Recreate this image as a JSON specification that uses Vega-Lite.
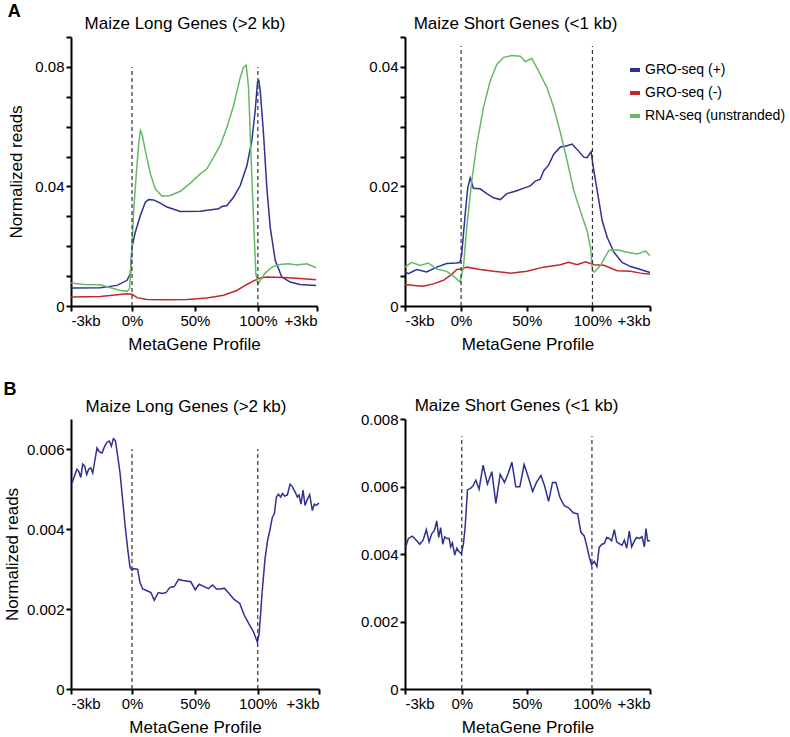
{
  "$schema": "https://vega.github.io/schema/vega-lite/v6.json",
  "background": "white",
  "padding": {"left": 3, "top": 3, "right": 2, "bottom": 1},
  "config": {
    "font": "Liberation Sans",
    "view": {"stroke": null},
    "axis": {"domain": true, "ticks": true, "domainColor": "#000000", "domainWidth": 2, "domainOpacity": 1, "tickColor": "#000000", "tickWidth": 2, "tickSize": 5, "tickOpacity": 1, "labelColor": "black", "labelFontSize": 15, "labelPadding": 2, "labelOverlap": false, "titleFontSize": 17, "titleFontWeight": "normal", "titleColor": "black", "grid": false, "titlePadding": 8},
    "title": {"fontSize": 17, "fontWeight": "normal", "color": "black", "offset": 7},
    "legend": {"labelFontSize": 14, "labelColor": "black", "padding": 0}
  },
  "datasets": {
    "aLong": [
      {"pos": -48.4, "reads": 0.0060, "t": "GRO-seq (+)"}, {"pos": -25.1, "reads": 0.0061, "t": "GRO-seq (+)"}, {"pos": -11.9, "reads": 0.0069, "t": "GRO-seq (+)"}, {"pos": -4.0, "reads": 0.0086, "t": "GRO-seq (+)"}, {"pos": -1.3, "reads": 0.0108, "t": "GRO-seq (+)"}, {"pos": 0, "reads": 0.0197, "t": "GRO-seq (+)"}, {"pos": 2.6, "reads": 0.0247, "t": "GRO-seq (+)"}, {"pos": 6.6, "reads": 0.0303, "t": "GRO-seq (+)"}, {"pos": 10.6, "reads": 0.0347, "t": "GRO-seq (+)"}, {"pos": 13.2, "reads": 0.0356, "t": "GRO-seq (+)"}, {"pos": 17.2, "reads": 0.0355, "t": "GRO-seq (+)"}, {"pos": 22.5, "reads": 0.0344, "t": "GRO-seq (+)"}, {"pos": 27.8, "reads": 0.0331, "t": "GRO-seq (+)"}, {"pos": 38.4, "reads": 0.0316, "t": "GRO-seq (+)"}, {"pos": 54.2, "reads": 0.0317, "t": "GRO-seq (+)"}, {"pos": 68.8, "reads": 0.0325, "t": "GRO-seq (+)"}, {"pos": 71.4, "reads": 0.0333, "t": "GRO-seq (+)"}, {"pos": 75.4, "reads": 0.0336, "t": "GRO-seq (+)"}, {"pos": 80.7, "reads": 0.0364, "t": "GRO-seq (+)"}, {"pos": 86.0, "reads": 0.0403, "t": "GRO-seq (+)"}, {"pos": 91.3, "reads": 0.0470, "t": "GRO-seq (+)"}, {"pos": 95.2, "reads": 0.0553, "t": "GRO-seq (+)"}, {"pos": 97.9, "reads": 0.0654, "t": "GRO-seq (+)"}, {"pos": 99.7, "reads": 0.0748, "t": "GRO-seq (+)"}, {"pos": 100.8, "reads": 0.0754, "t": "GRO-seq (+)"}, {"pos": 101.9, "reads": 0.0720, "t": "GRO-seq (+)"}, {"pos": 104.5, "reads": 0.0576, "t": "GRO-seq (+)"}, {"pos": 107.1, "reads": 0.0398, "t": "GRO-seq (+)"}, {"pos": 109.8, "reads": 0.0264, "t": "GRO-seq (+)"}, {"pos": 113.8, "reads": 0.0153, "t": "GRO-seq (+)"}, {"pos": 119.0, "reads": 0.0097, "t": "GRO-seq (+)"}, {"pos": 125.7, "reads": 0.0080, "t": "GRO-seq (+)"}, {"pos": 133.6, "reads": 0.0072, "t": "GRO-seq (+)"}, {"pos": 146.3, "reads": 0.0069, "t": "GRO-seq (+)"},
      {"pos": -48.4, "reads": 0.0030, "t": "GRO-seq (-)"}, {"pos": -25.1, "reads": 0.0032, "t": "GRO-seq (-)"}, {"pos": -11.9, "reads": 0.0038, "t": "GRO-seq (-)"}, {"pos": -4.0, "reads": 0.0041, "t": "GRO-seq (-)"}, {"pos": 0, "reads": 0.0039, "t": "GRO-seq (-)"}, {"pos": 4.0, "reads": 0.0028, "t": "GRO-seq (-)"}, {"pos": 11.9, "reads": 0.0022, "t": "GRO-seq (-)"}, {"pos": 27.8, "reads": 0.0021, "t": "GRO-seq (-)"}, {"pos": 43.7, "reads": 0.0022, "t": "GRO-seq (-)"}, {"pos": 59.5, "reads": 0.0027, "t": "GRO-seq (-)"}, {"pos": 72.8, "reads": 0.0036, "t": "GRO-seq (-)"}, {"pos": 83.3, "reads": 0.0052, "t": "GRO-seq (-)"}, {"pos": 91.3, "reads": 0.0072, "t": "GRO-seq (-)"}, {"pos": 96.6, "reads": 0.0084, "t": "GRO-seq (-)"}, {"pos": 101.9, "reads": 0.0094, "t": "GRO-seq (-)"}, {"pos": 107.1, "reads": 0.0097, "t": "GRO-seq (-)"}, {"pos": 120.4, "reads": 0.0095, "t": "GRO-seq (-)"}, {"pos": 133.6, "reads": 0.0092, "t": "GRO-seq (-)"}, {"pos": 146.3, "reads": 0.0088, "t": "GRO-seq (-)"},
      {"pos": -48.4, "reads": 0.0077, "t": "RNA-seq (unstranded)"}, {"pos": -38.4, "reads": 0.0072, "t": "RNA-seq (unstranded)"}, {"pos": -25.1, "reads": 0.0071, "t": "RNA-seq (unstranded)"}, {"pos": -17.2, "reads": 0.0061, "t": "RNA-seq (unstranded)"}, {"pos": -9.3, "reads": 0.0052, "t": "RNA-seq (unstranded)"}, {"pos": -4.0, "reads": 0.0049, "t": "RNA-seq (unstranded)"}, {"pos": -1.9, "reads": 0.0058, "t": "RNA-seq (unstranded)"}, {"pos": 0, "reads": 0.0197, "t": "RNA-seq (unstranded)"}, {"pos": 1.3, "reads": 0.0320, "t": "RNA-seq (unstranded)"}, {"pos": 3.4, "reads": 0.0442, "t": "RNA-seq (unstranded)"}, {"pos": 5.3, "reads": 0.0542, "t": "RNA-seq (unstranded)"}, {"pos": 6.6, "reads": 0.0587, "t": "RNA-seq (unstranded)"}, {"pos": 7.9, "reads": 0.0576, "t": "RNA-seq (unstranded)"}, {"pos": 10.6, "reads": 0.0520, "t": "RNA-seq (unstranded)"}, {"pos": 14.6, "reads": 0.0442, "t": "RNA-seq (unstranded)"}, {"pos": 18.5, "reads": 0.0392, "t": "RNA-seq (unstranded)"}, {"pos": 23.8, "reads": 0.0367, "t": "RNA-seq (unstranded)"}, {"pos": 30.4, "reads": 0.0370, "t": "RNA-seq (unstranded)"}, {"pos": 38.4, "reads": 0.0384, "t": "RNA-seq (unstranded)"}, {"pos": 46.3, "reads": 0.0411, "t": "RNA-seq (unstranded)"}, {"pos": 54.2, "reads": 0.0442, "t": "RNA-seq (unstranded)"}, {"pos": 59.5, "reads": 0.0459, "t": "RNA-seq (unstranded)"}, {"pos": 64.8, "reads": 0.0498, "t": "RNA-seq (unstranded)"}, {"pos": 70.1, "reads": 0.0537, "t": "RNA-seq (unstranded)"}, {"pos": 75.4, "reads": 0.0598, "t": "RNA-seq (unstranded)"}, {"pos": 80.7, "reads": 0.0670, "t": "RNA-seq (unstranded)"}, {"pos": 86.0, "reads": 0.0765, "t": "RNA-seq (unstranded)"}, {"pos": 88.6, "reads": 0.0798, "t": "RNA-seq (unstranded)"}, {"pos": 90.7, "reads": 0.0806, "t": "RNA-seq (unstranded)"}, {"pos": 92.6, "reads": 0.0732, "t": "RNA-seq (unstranded)"}, {"pos": 94.4, "reads": 0.0520, "t": "RNA-seq (unstranded)"}, {"pos": 96.6, "reads": 0.0286, "t": "RNA-seq (unstranded)"}, {"pos": 98.4, "reads": 0.0108, "t": "RNA-seq (unstranded)"}, {"pos": 100.0, "reads": 0.0072, "t": "RNA-seq (unstranded)"}, {"pos": 101.9, "reads": 0.0086, "t": "RNA-seq (unstranded)"}, {"pos": 105.8, "reads": 0.0110, "t": "RNA-seq (unstranded)"}, {"pos": 111.1, "reads": 0.0130, "t": "RNA-seq (unstranded)"}, {"pos": 117.7, "reads": 0.0139, "t": "RNA-seq (unstranded)"}, {"pos": 124.3, "reads": 0.0141, "t": "RNA-seq (unstranded)"}, {"pos": 131.0, "reads": 0.0137, "t": "RNA-seq (unstranded)"}, {"pos": 138.9, "reads": 0.0141, "t": "RNA-seq (unstranded)"}, {"pos": 146.3, "reads": 0.0128, "t": "RNA-seq (unstranded)"}
    ],
    "aShort": [
      {"pos": -42.7, "reads": 0.0057, "t": "GRO-seq (+)"}, {"pos": -40.2, "reads": 0.0054, "t": "GRO-seq (+)"}, {"pos": -33.8, "reads": 0.0061, "t": "GRO-seq (+)"}, {"pos": -26.2, "reads": 0.0057, "t": "GRO-seq (+)"}, {"pos": -18.6, "reads": 0.0065, "t": "GRO-seq (+)"}, {"pos": -10.9, "reads": 0.0071, "t": "GRO-seq (+)"}, {"pos": -3.3, "reads": 0.0072, "t": "GRO-seq (+)"}, {"pos": -0.8, "reads": 0.0073, "t": "GRO-seq (+)"}, {"pos": 0.5, "reads": 0.0087, "t": "GRO-seq (+)"}, {"pos": 3.1, "reads": 0.0154, "t": "GRO-seq (+)"}, {"pos": 5.1, "reads": 0.0198, "t": "GRO-seq (+)"}, {"pos": 6.9, "reads": 0.0214, "t": "GRO-seq (+)"}, {"pos": 9.4, "reads": 0.0197, "t": "GRO-seq (+)"}, {"pos": 14.5, "reads": 0.0196, "t": "GRO-seq (+)"}, {"pos": 19.6, "reads": 0.0188, "t": "GRO-seq (+)"}, {"pos": 24.7, "reads": 0.0181, "t": "GRO-seq (+)"}, {"pos": 29.8, "reads": 0.0178, "t": "GRO-seq (+)"}, {"pos": 34.9, "reads": 0.0188, "t": "GRO-seq (+)"}, {"pos": 41.2, "reads": 0.0192, "t": "GRO-seq (+)"}, {"pos": 48.9, "reads": 0.0198, "t": "GRO-seq (+)"}, {"pos": 52.7, "reads": 0.0201, "t": "GRO-seq (+)"}, {"pos": 56.5, "reads": 0.0209, "t": "GRO-seq (+)"}, {"pos": 60.3, "reads": 0.0212, "t": "GRO-seq (+)"}, {"pos": 62.8, "reads": 0.0226, "t": "GRO-seq (+)"}, {"pos": 66.7, "reads": 0.0236, "t": "GRO-seq (+)"}, {"pos": 70.5, "reads": 0.0254, "t": "GRO-seq (+)"}, {"pos": 75.6, "reads": 0.0266, "t": "GRO-seq (+)"}, {"pos": 80.7, "reads": 0.0268, "t": "GRO-seq (+)"}, {"pos": 84.5, "reads": 0.0271, "t": "GRO-seq (+)"}, {"pos": 88.3, "reads": 0.0262, "t": "GRO-seq (+)"}, {"pos": 93.4, "reads": 0.0249, "t": "GRO-seq (+)"}, {"pos": 95.9, "reads": 0.0248, "t": "GRO-seq (+)"}, {"pos": 99.0, "reads": 0.0258, "t": "GRO-seq (+)"}, {"pos": 100.5, "reads": 0.0234, "t": "GRO-seq (+)"}, {"pos": 103.6, "reads": 0.0193, "t": "GRO-seq (+)"}, {"pos": 107.4, "reads": 0.0143, "t": "GRO-seq (+)"}, {"pos": 111.2, "reads": 0.0115, "t": "GRO-seq (+)"}, {"pos": 116.3, "reads": 0.0090, "t": "GRO-seq (+)"}, {"pos": 122.6, "reads": 0.0073, "t": "GRO-seq (+)"}, {"pos": 129.0, "reads": 0.0066, "t": "GRO-seq (+)"}, {"pos": 136.6, "reads": 0.0061, "t": "GRO-seq (+)"}, {"pos": 143.8, "reads": 0.0056, "t": "GRO-seq (+)"},
      {"pos": -42.7, "reads": 0.0036, "t": "GRO-seq (-)"}, {"pos": -33.8, "reads": 0.0034, "t": "GRO-seq (-)"}, {"pos": -28.8, "reads": 0.0033, "t": "GRO-seq (-)"}, {"pos": -21.1, "reads": 0.0037, "t": "GRO-seq (-)"}, {"pos": -13.5, "reads": 0.0043, "t": "GRO-seq (-)"}, {"pos": -7.1, "reads": 0.0053, "t": "GRO-seq (-)"}, {"pos": -3.3, "reads": 0.0061, "t": "GRO-seq (-)"}, {"pos": 0.5, "reads": 0.0062, "t": "GRO-seq (-)"}, {"pos": 4.3, "reads": 0.0065, "t": "GRO-seq (-)"}, {"pos": 14.5, "reads": 0.0061, "t": "GRO-seq (-)"}, {"pos": 24.7, "reads": 0.0058, "t": "GRO-seq (-)"}, {"pos": 37.4, "reads": 0.0055, "t": "GRO-seq (-)"}, {"pos": 50.1, "reads": 0.0058, "t": "GRO-seq (-)"}, {"pos": 62.8, "reads": 0.0065, "t": "GRO-seq (-)"}, {"pos": 75.6, "reads": 0.0069, "t": "GRO-seq (-)"}, {"pos": 81.9, "reads": 0.0073, "t": "GRO-seq (-)"}, {"pos": 88.3, "reads": 0.0069, "t": "GRO-seq (-)"}, {"pos": 94.7, "reads": 0.0074, "t": "GRO-seq (-)"}, {"pos": 101.1, "reads": 0.0069, "t": "GRO-seq (-)"}, {"pos": 108.7, "reads": 0.0068, "t": "GRO-seq (-)"}, {"pos": 118.8, "reads": 0.0059, "t": "GRO-seq (-)"}, {"pos": 129.0, "reads": 0.0058, "t": "GRO-seq (-)"}, {"pos": 136.6, "reads": 0.0055, "t": "GRO-seq (-)"}, {"pos": 143.8, "reads": 0.0053, "t": "GRO-seq (-)"},
      {"pos": -42.7, "reads": 0.0065, "t": "RNA-seq (unstranded)"}, {"pos": -37.7, "reads": 0.0073, "t": "RNA-seq (unstranded)"}, {"pos": -31.3, "reads": 0.0068, "t": "RNA-seq (unstranded)"}, {"pos": -24.9, "reads": 0.0072, "t": "RNA-seq (unstranded)"}, {"pos": -18.6, "reads": 0.0062, "t": "RNA-seq (unstranded)"}, {"pos": -10.9, "reads": 0.0058, "t": "RNA-seq (unstranded)"}, {"pos": -4.6, "reads": 0.0048, "t": "RNA-seq (unstranded)"}, {"pos": -0.8, "reads": 0.0040, "t": "RNA-seq (unstranded)"}, {"pos": 1.8, "reads": 0.0065, "t": "RNA-seq (unstranded)"}, {"pos": 4.3, "reads": 0.0132, "t": "RNA-seq (unstranded)"}, {"pos": 8.1, "reads": 0.0209, "t": "RNA-seq (unstranded)"}, {"pos": 12.0, "reads": 0.0271, "t": "RNA-seq (unstranded)"}, {"pos": 17.0, "reads": 0.0332, "t": "RNA-seq (unstranded)"}, {"pos": 22.1, "reads": 0.0376, "t": "RNA-seq (unstranded)"}, {"pos": 27.2, "reads": 0.0404, "t": "RNA-seq (unstranded)"}, {"pos": 32.3, "reads": 0.0416, "t": "RNA-seq (unstranded)"}, {"pos": 38.7, "reads": 0.0419, "t": "RNA-seq (unstranded)"}, {"pos": 45.0, "reads": 0.0418, "t": "RNA-seq (unstranded)"}, {"pos": 48.9, "reads": 0.0409, "t": "RNA-seq (unstranded)"}, {"pos": 53.9, "reads": 0.0414, "t": "RNA-seq (unstranded)"}, {"pos": 59.0, "reads": 0.0393, "t": "RNA-seq (unstranded)"}, {"pos": 65.4, "reads": 0.0365, "t": "RNA-seq (unstranded)"}, {"pos": 70.5, "reads": 0.0332, "t": "RNA-seq (unstranded)"}, {"pos": 75.6, "reads": 0.0290, "t": "RNA-seq (unstranded)"}, {"pos": 80.7, "reads": 0.0243, "t": "RNA-seq (unstranded)"}, {"pos": 85.8, "reads": 0.0193, "t": "RNA-seq (unstranded)"}, {"pos": 90.8, "reads": 0.0159, "t": "RNA-seq (unstranded)"}, {"pos": 95.9, "reads": 0.0126, "t": "RNA-seq (unstranded)"}, {"pos": 98.5, "reads": 0.0098, "t": "RNA-seq (unstranded)"}, {"pos": 100.0, "reads": 0.0059, "t": "RNA-seq (unstranded)"}, {"pos": 101.5, "reads": 0.0057, "t": "RNA-seq (unstranded)"}, {"pos": 106.1, "reads": 0.0068, "t": "RNA-seq (unstranded)"}, {"pos": 112.5, "reads": 0.0093, "t": "RNA-seq (unstranded)"}, {"pos": 118.8, "reads": 0.0094, "t": "RNA-seq (unstranded)"}, {"pos": 126.5, "reads": 0.0090, "t": "RNA-seq (unstranded)"}, {"pos": 134.1, "reads": 0.0087, "t": "RNA-seq (unstranded)"}, {"pos": 140.5, "reads": 0.0092, "t": "RNA-seq (unstranded)"}, {"pos": 143.8, "reads": 0.0084, "t": "RNA-seq (unstranded)"}
    ],
    "bLong": [
      {"pos": -47.6, "reads": 0.00515}, {"pos": -45.8, "reads": 0.00532}, {"pos": -43.9, "reads": 0.00549}, {"pos": -42.3, "reads": 0.00544}, {"pos": -40.7, "reads": 0.00529}, {"pos": -39.2, "reads": 0.00562}, {"pos": -37.6, "reads": 0.00557}, {"pos": -36.0, "reads": 0.00536}, {"pos": -34.4, "reads": 0.0055}, {"pos": -32.8, "reads": 0.00553}, {"pos": -31.2, "reads": 0.0054}, {"pos": -29.6, "reads": 0.0057}, {"pos": -27.8, "reads": 0.00603}, {"pos": -25.9, "reads": 0.00593}, {"pos": -23.8, "reads": 0.0059}, {"pos": -21.7, "reads": 0.00607}, {"pos": -19.8, "reads": 0.00617}, {"pos": -18.0, "reads": 0.0062}, {"pos": -16.4, "reads": 0.00607}, {"pos": -14.8, "reads": 0.00626}, {"pos": -13.2, "reads": 0.00621}, {"pos": -11.4, "reads": 0.00583}, {"pos": -9.5, "reads": 0.0054}, {"pos": -7.4, "reads": 0.00472}, {"pos": -5.3, "reads": 0.00403}, {"pos": -3.2, "reads": 0.00344}, {"pos": -1.6, "reads": 0.00305}, {"pos": 0, "reads": 0.00297}, {"pos": 1.3, "reads": 0.00301}, {"pos": 4.5, "reads": 0.00299}, {"pos": 6.3, "reads": 0.00267}, {"pos": 8.5, "reads": 0.0025}, {"pos": 12.4, "reads": 0.00245}, {"pos": 15.1, "reads": 0.00241}, {"pos": 17.7, "reads": 0.00222}, {"pos": 20.9, "reads": 0.00241}, {"pos": 24.3, "reads": 0.00239}, {"pos": 27.0, "reads": 0.00241}, {"pos": 30.2, "reads": 0.00254}, {"pos": 33.6, "reads": 0.00256}, {"pos": 37.0, "reads": 0.00274}, {"pos": 40.7, "reads": 0.00271}, {"pos": 46.8, "reads": 0.00268}, {"pos": 50.3, "reads": 0.00248}, {"pos": 53.4, "reads": 0.00262}, {"pos": 57.4, "reads": 0.00256}, {"pos": 60.8, "reads": 0.00251}, {"pos": 64.0, "reads": 0.0026}, {"pos": 67.2, "reads": 0.0025}, {"pos": 70.6, "reads": 0.0025}, {"pos": 73.3, "reads": 0.00252}, {"pos": 77.2, "reads": 0.00239}, {"pos": 81.2, "reads": 0.00224}, {"pos": 85.7, "reads": 0.00214}, {"pos": 89.2, "reads": 0.00185}, {"pos": 93.1, "reads": 0.00162}, {"pos": 96.6, "reads": 0.00143}, {"pos": 99.7, "reads": 0.00117}, {"pos": 101.1, "reads": 0.00138}, {"pos": 103.7, "reads": 0.0025}, {"pos": 105.8, "reads": 0.00326}, {"pos": 107.7, "reads": 0.00369}, {"pos": 109.5, "reads": 0.00395}, {"pos": 111.6, "reads": 0.00429}, {"pos": 113.2, "reads": 0.00438}, {"pos": 114.8, "reads": 0.0048}, {"pos": 116.4, "reads": 0.00487}, {"pos": 118.3, "reads": 0.0048}, {"pos": 119.6, "reads": 0.00489}, {"pos": 121.4, "reads": 0.00482}, {"pos": 123.5, "reads": 0.00485}, {"pos": 125.7, "reads": 0.00512}, {"pos": 127.5, "reads": 0.00506}, {"pos": 129.6, "reads": 0.00493}, {"pos": 131.5, "reads": 0.0048}, {"pos": 132.8, "reads": 0.00485}, {"pos": 134.4, "reads": 0.00462}, {"pos": 136.0, "reads": 0.00497}, {"pos": 137.6, "reads": 0.00459}, {"pos": 139.4, "reads": 0.00474}, {"pos": 141.3, "reads": 0.00486}, {"pos": 143.4, "reads": 0.00446}, {"pos": 145.0, "reads": 0.00462}, {"pos": 146.6, "reads": 0.00459}, {"pos": 148.7, "reads": 0.00465}
    ],
    "bShort": [
      {"pos": -43.1, "reads": 0.00421}, {"pos": -41.0, "reads": 0.00446}, {"pos": -37.9, "reads": 0.00453}, {"pos": -34.9, "reads": 0.00441}, {"pos": -32.3, "reads": 0.00429}, {"pos": -29.7, "reads": 0.00441}, {"pos": -27.2, "reads": 0.00472}, {"pos": -25.1, "reads": 0.00436}, {"pos": -23.1, "reads": 0.0046}, {"pos": -21.0, "reads": 0.0047}, {"pos": -19.2, "reads": 0.00498}, {"pos": -17.7, "reads": 0.00449}, {"pos": -16.2, "reads": 0.00478}, {"pos": -14.6, "reads": 0.00429}, {"pos": -13.1, "reads": 0.00451}, {"pos": -11.5, "reads": 0.00446}, {"pos": -9.7, "reads": 0.00446}, {"pos": -8.5, "reads": 0.00421}, {"pos": -7.2, "reads": 0.00433}, {"pos": -5.4, "reads": 0.00397}, {"pos": -3.8, "reads": 0.00417}, {"pos": -2.1, "reads": 0.00407}, {"pos": -0.3, "reads": 0.004}, {"pos": 1.3, "reads": 0.00431}, {"pos": 2.6, "reads": 0.0048}, {"pos": 4.4, "reads": 0.0059}, {"pos": 6.9, "reads": 0.00595}, {"pos": 8.7, "reads": 0.00602}, {"pos": 10.8, "reads": 0.00619}, {"pos": 13.3, "reads": 0.00592}, {"pos": 16.4, "reads": 0.00663}, {"pos": 19.7, "reads": 0.00607}, {"pos": 23.1, "reads": 0.00644}, {"pos": 26.2, "reads": 0.0055}, {"pos": 29.5, "reads": 0.00636}, {"pos": 32.8, "reads": 0.00612}, {"pos": 35.9, "reads": 0.00641}, {"pos": 38.5, "reads": 0.00672}, {"pos": 41.5, "reads": 0.00599}, {"pos": 44.6, "reads": 0.00599}, {"pos": 47.9, "reads": 0.00665}, {"pos": 51.3, "reads": 0.00626}, {"pos": 54.4, "reads": 0.00585}, {"pos": 57.4, "reads": 0.00612}, {"pos": 60.8, "reads": 0.00633}, {"pos": 63.6, "reads": 0.00602}, {"pos": 66.7, "reads": 0.00556}, {"pos": 69.7, "reads": 0.00612}, {"pos": 72.3, "reads": 0.00612}, {"pos": 75.4, "reads": 0.00568}, {"pos": 78.7, "reads": 0.00543}, {"pos": 82.1, "reads": 0.00537}, {"pos": 85.6, "reads": 0.00522}, {"pos": 89.0, "reads": 0.00519}, {"pos": 91.5, "reads": 0.00465}, {"pos": 94.1, "reads": 0.00453}, {"pos": 96.2, "reads": 0.00421}, {"pos": 97.9, "reads": 0.00392}, {"pos": 99.7, "reads": 0.00368}, {"pos": 101.8, "reads": 0.00378}, {"pos": 103.8, "reads": 0.00363}, {"pos": 105.6, "reads": 0.0042}, {"pos": 107.7, "reads": 0.00429}, {"pos": 109.5, "reads": 0.00431}, {"pos": 111.3, "reads": 0.00449}, {"pos": 113.3, "reads": 0.00446}, {"pos": 115.1, "reads": 0.00439}, {"pos": 117.2, "reads": 0.00472}, {"pos": 119.0, "reads": 0.00436}, {"pos": 121.0, "reads": 0.00431}, {"pos": 123.1, "reads": 0.00426}, {"pos": 124.9, "reads": 0.00441}, {"pos": 126.7, "reads": 0.00417}, {"pos": 128.7, "reads": 0.00468}, {"pos": 130.5, "reads": 0.00421}, {"pos": 132.6, "reads": 0.00439}, {"pos": 134.4, "reads": 0.00449}, {"pos": 136.4, "reads": 0.00446}, {"pos": 138.5, "reads": 0.00451}, {"pos": 140.3, "reads": 0.00421}, {"pos": 141.5, "reads": 0.00475}, {"pos": 142.8, "reads": 0.00439}, {"pos": 144.6, "reads": 0.00439}
    ]
  },
  "spacing": 29,
  "vconcat": [
    {
      "title": {"text": "A", "anchor": "start", "frame": "bounds", "fontSize": 18, "fontWeight": "bold", "offset": -6},
      "spacing": 48,
      "resolve": {"scale": {"color": "independent"}, "legend": {"color": "independent"}},
      "hconcat": [
        {
          "width": 246, "height": 269,
          "title": {"text": "Maize Long Genes (>2 kb)", "dx": -9, "offset": -3},
          "encoding": {
            "x": {"field": "pos", "type": "quantitative", "scale": {"domain": [-48.5, 147], "nice": false, "zero": false},
                  "axis": {"values": [-48.5, 0, 50, 100, 147], "labelExpr": "datum.value < -1 ? '-3kb' : datum.value > 101 ? '+3kb' : datum.value + '%'", "title": "MetaGene Profile", "domain": true, "ticks": true}},
            "y": {"field": "reads", "type": "quantitative", "scale": {"domain": [0, 0.09], "nice": false},
                  "axis": {"values": [0, 0.01, 0.02, 0.03, 0.04, 0.05, 0.06, 0.07, 0.08, 0.09], "format": ".2~f", "labelExpr": "indexof(['0','0.04','0.08'], datum.label) >= 0 ? datum.label : ''", "title": "Normalized reads", "titlePadding": 9, "domain": true, "ticks": true}}
          },
          "layer": [
            {"data": {"name": "aLong"}, "mark": {"type": "line", "strokeWidth": 1.5},
             "encoding": {"color": {"field": "t", "type": "nominal", "scale": {"domain": ["GRO-seq (+)", "GRO-seq (-)", "RNA-seq (unstranded)"], "range": ["#2e3192", "#c1272d", "#66b966"]}, "legend": null}}},
            {"data": {"values": [{"pos": 0, "reads": 0, "top": 0.08}, {"pos": 100, "reads": 0, "top": 0.08}]},
             "mark": {"type": "rule", "strokeDash": [4, 3], "strokeWidth": 1.2, "color": "#333333"},
             "encoding": {"y2": {"field": "top"}}}
          ]
        },
        {
          "width": 245, "height": 269,
          "title": {"text": "Maize Short Genes (<1 kb)", "dx": -12, "offset": -3},
          "encoding": {
            "x": {"field": "pos", "type": "quantitative", "scale": {"domain": [-42.7, 143.8], "nice": false, "zero": false},
                  "axis": {"values": [-42.7, 0, 50, 100, 143.8], "labelExpr": "datum.value < -1 ? '-3kb' : datum.value > 101 ? '+3kb' : datum.value + '%'", "title": "MetaGene Profile", "domain": true, "ticks": true}},
            "y": {"field": "reads", "type": "quantitative", "scale": {"domain": [0, 0.045], "nice": false},
                  "axis": {"values": [0, 0.005, 0.01, 0.015, 0.02, 0.025, 0.03, 0.035, 0.04, 0.045], "format": ".3~f", "labelExpr": "indexof(['0','0.02','0.04'], datum.label) >= 0 ? datum.label : ''", "title": null, "domain": true, "ticks": true}}
          },
          "layer": [
            {"data": {"name": "aShort"}, "mark": {"type": "line", "strokeWidth": 1.5},
             "encoding": {"color": {"field": "t", "type": "nominal", "scale": {"domain": ["GRO-seq (+)", "GRO-seq (-)", "RNA-seq (unstranded)"], "range": ["#2e3192", "#c1272d", "#66b966"]},
                                    "legend": {"orient": "none", "legendX": 223, "legendY": 26, "title": null, "symbolType": "stroke", "symbolStrokeWidth": 4, "symbolSize": 100, "labelOffset": 3, "rowPadding": 7, "labelFontSize": 14}}}},
            {"data": {"values": [{"pos": 0, "reads": 0, "top": 0.0435}, {"pos": 100, "reads": 0, "top": 0.0435}]},
             "mark": {"type": "rule", "strokeDash": [4, 3], "strokeWidth": 1.2, "color": "#333333"},
             "encoding": {"y2": {"field": "top"}}}
          ]
        }
      ]
    },
    {
      "title": {"text": "B", "anchor": "start", "frame": "bounds", "fontSize": 18, "fontWeight": "bold", "offset": -2},
      "spacing": 38,
      "hconcat": [
        {
          "width": 248, "height": 270,
          "title": {"text": "Maize Long Genes (>2 kb)", "dx": -9, "offset": 3},
          "encoding": {
            "x": {"field": "pos", "type": "quantitative", "scale": {"domain": [-48.5, 148.7], "nice": false, "zero": false},
                  "axis": {"values": [-48.5, 0, 50, 100, 148.7], "labelExpr": "datum.value < -1 ? '-3kb' : datum.value > 101 ? '+3kb' : datum.value + '%'", "title": "MetaGene Profile", "domain": true, "ticks": true}},
            "y": {"field": "reads", "type": "quantitative", "scale": {"domain": [0, 0.00675], "nice": false},
                  "axis": {"values": [0, 0.002, 0.004, 0.006], "format": ".3~f", "title": "Normalized reads", "titlePadding": 5, "domain": true, "ticks": true}}
          },
          "layer": [
            {"data": {"name": "bLong"}, "mark": {"type": "line", "strokeWidth": 1.5, "color": "#2e3192"}},
            {"data": {"values": [{"pos": 0, "reads": 0, "top": 0.006}, {"pos": 100, "reads": 0, "top": 0.006}]},
             "mark": {"type": "rule", "strokeDash": [4, 3], "strokeWidth": 1.2, "color": "#333333"},
             "encoding": {"y2": {"field": "top"}}}
          ]
        },
        {
          "width": 245, "height": 270,
          "title": {"text": "Maize Short Genes (<1 kb)", "dx": -11, "offset": -3},
          "encoding": {
            "x": {"field": "pos", "type": "quantitative", "scale": {"domain": [-43.6, 144.6], "nice": false, "zero": false},
                  "axis": {"values": [-43.6, 0, 50, 100, 144.6], "labelExpr": "datum.value < -1 ? '-3kb' : datum.value > 101 ? '+3kb' : datum.value + '%'", "title": "MetaGene Profile", "domain": true, "ticks": true}},
            "y": {"field": "reads", "type": "quantitative", "scale": {"domain": [0, 0.008], "nice": false},
                  "axis": {"values": [0, 0.002, 0.004, 0.006, 0.008], "format": ".3~f", "title": null, "domain": true, "ticks": true}}
          },
          "layer": [
            {"data": {"name": "bShort"}, "mark": {"type": "line", "strokeWidth": 1.5, "color": "#2e3192"}},
            {"data": {"values": [{"pos": 0, "reads": 0, "top": 0.0075}, {"pos": 100, "reads": 0, "top": 0.0075}]},
             "mark": {"type": "rule", "strokeDash": [4, 3], "strokeWidth": 1.2, "color": "#333333"},
             "encoding": {"y2": {"field": "top"}}}
          ]
        }
      ]
    }
  ]
}
